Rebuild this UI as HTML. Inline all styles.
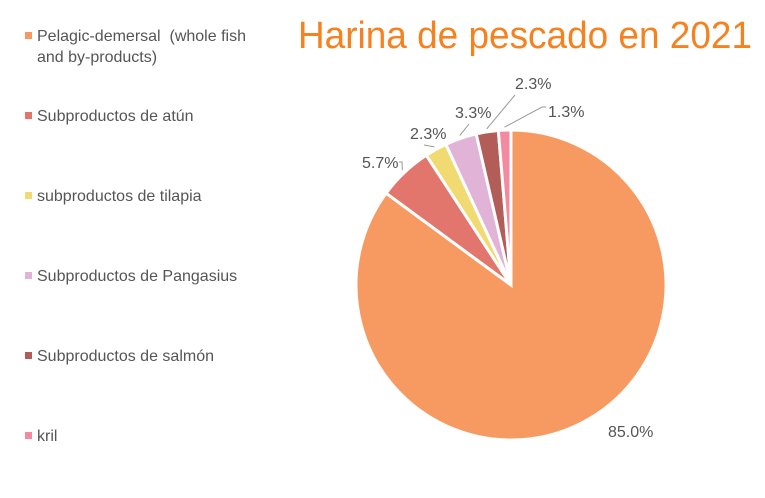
<!DOCTYPE html>
<html><head><meta charset="utf-8">
<style>
body{margin:0;background:#fff;width:765px;height:493px;overflow:hidden;font-family:"Liberation Sans",sans-serif}
</style></head>
<body>
<svg width="765" height="493">
<text x="298" y="48" font-size="38" fill="#F5821F" textLength="454" lengthAdjust="spacingAndGlyphs">Harina de pescado en 2021</text>
<g id="legend"></g>
<g id="pie"></g>
<g id="labels"></g>
</svg>
<script>
const categories=["Pelagic-demersal  (whole fish|and by-products)","Subproductos de atún","subproductos de tilapia","Subproductos de Pangasius","Subproductos de salmón","kril"];
const values=[85.0,5.7,2.3,3.3,2.3,1.3];
const valueLabels=["85.0%","5.7%","2.3%","3.3%","2.3%","1.3%"];
const colors=["#F79A62","#E2766C","#F1DA72","#E1B3D6","#B25D57","#F48AA0"];
const ns="http://www.w3.org/2000/svg";
const cx=511,cy=285,R=155;
const total=values.reduce((a,b)=>a+b,0);
function pt(a,r){return [cx+r*Math.sin(a),cy-r*Math.cos(a)];}
const pie=document.getElementById('pie'),lab=document.getElementById('labels'),leg=document.getElementById('legend');
// label text positions (layout)
const labelPos=[[608,437],[362,168],[410,139],[455,118],[515,89],[548,117]];
let a0=0;
values.forEach((v,i)=>{
  const a1=a0+v/total*2*Math.PI;
  const p0=pt(a0,R),p1=pt(a1,R);
  const path=document.createElementNS(ns,'path');
  path.setAttribute('d',`M${cx},${cy}L${p0[0]},${p0[1]}A${R},${R} 0 ${a1-a0>Math.PI?1:0} 1 ${p1[0]},${p1[1]}Z`);
  path.setAttribute('fill',colors[i]);path.setAttribute('stroke','#fff');path.setAttribute('stroke-width','3');
  
  
  pie.appendChild(path);
  const am=(a0+a1)/2;const [lx,ly]=labelPos[i];
  if(i>0){
    const e=pt(am,R+3);
    const tx=lx<cx?lx+ (i==1?38:16):lx-4;
    const ln=document.createElementNS(ns,'polyline');
    const ex=i==1?lx+40:(i==5?lx-6:lx+(i==4?0:14));
    const ey=i==1?ly-6:(i==5?ly-10:ly+6);
    ln.setAttribute('points',`${e[0]},${e[1]} ${ex},${ey}`+(i==1||i==5?` ${i==1?ex-3:ex+4},${ey}`:''));
    ln.setAttribute('fill','none');ln.setAttribute('stroke','#999');ln.setAttribute('stroke-width','1');
    
    
    lab.appendChild(ln);
  }
  const t=document.createElementNS(ns,'text');
  t.setAttribute('x',lx);t.setAttribute('y',ly);t.setAttribute('font-size','16');t.setAttribute('fill','#555');
  if(i==1)t.setAttribute('text-anchor','start');
  t.textContent=valueLabels[i];
  
  
  lab.appendChild(t);
  a0=a1;
});
categories.forEach((c,i)=>{
  const y=41+i*80;
  const r=document.createElementNS(ns,'rect');
  r.setAttribute('x',25);r.setAttribute('y',y-9);r.setAttribute('width',7);r.setAttribute('height',7);r.setAttribute('fill',colors[i]);
  
  
  leg.appendChild(r);
  c.split('|').forEach((line,k)=>{
    const t=document.createElementNS(ns,'text');
    t.setAttribute('x',37);t.setAttribute('y',y+k*21);t.setAttribute('font-size','16');t.setAttribute('fill','#555');
    t.setAttribute('xml:space','preserve');t.style.whiteSpace='pre';
    t.textContent=line;
    
    
    leg.appendChild(t);
  });
});
</script>
</body></html>
